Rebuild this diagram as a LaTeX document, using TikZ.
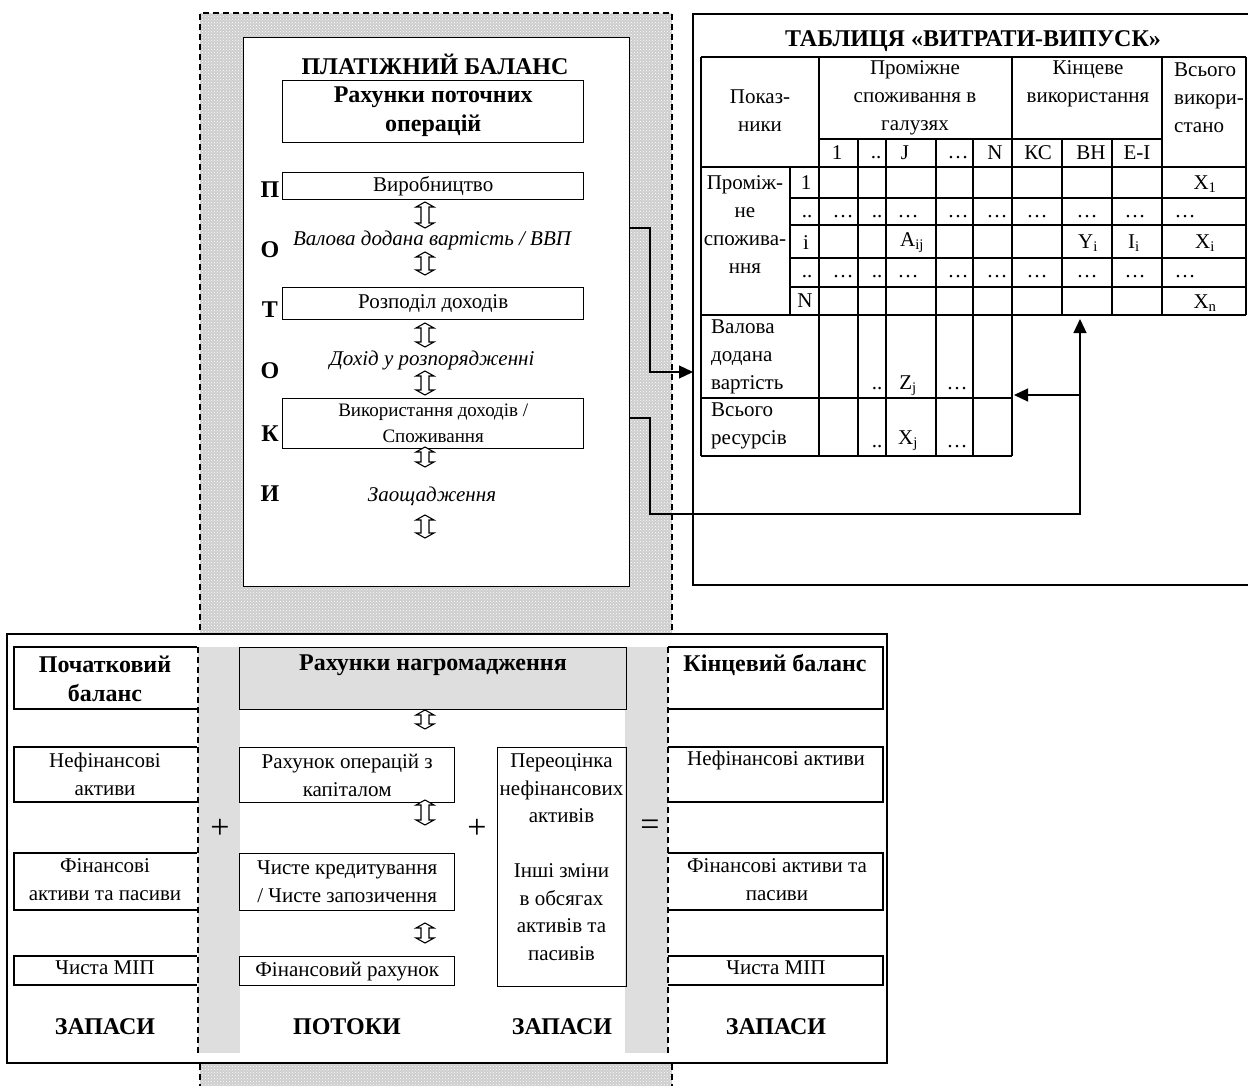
\documentclass[tikz,border=0pt]{standalone}
\usepackage{fontspec}
\setmainfont{Liberation Serif}
\usetikzlibrary{arrows.meta,patterns}
\definecolor{dotbg}{RGB}{205,205,205}
\definecolor{colgray}{RGB}{222,222,222}
\tikzset{
  txt/.style={font=\fontsize{21}{28}\selectfont, inner sep=0pt, align=center},
  btxt/.style={font=\fontsize{24}{28.5}\selectfont\bfseries, inner sep=0pt, align=center},
  itxt/.style={font=\fontsize{21}{28}\selectfont\itshape, inner sep=0pt},
  optxt/.style={font=\fontsize{34}{34}\selectfont, inner sep=0pt},
  boxline/.style={line width=1.4pt},
  gridline/.style={line width=1.2pt},
  pbox/.style={draw, boxline, inner sep=0pt, anchor=north west, align=center},
  conn/.style={line width=1.2pt},
  arr/.style={conn, -{Triangle[length=14pt,width=13pt]}},
  dashline/.style={line width=1.2pt, dash pattern=on 6pt off 4pt},
}
% hollow up-down arrow: x, ytop, ybottom
\newcommand\UDarrow[3]{%
  \draw[line width=1.1pt, fill=white] (#1,#2) -- (#1+9,#2+5) -- (#1+4,#2+5) -- (#1+4,#3-5) -- (#1+9,#3-5) -- (#1,#3) -- (#1-9,#3-5) -- (#1-4,#3-5) -- (#1-4,#2+5) -- (#1-9,#2+5) -- cycle;}
% box open on the right: x1, y1, x2, y2
\newcommand\OpenRight[4]{\draw[boxline] (#3,#2) -| (#1,#4) -- (#3,#4);}
% box open on the left: x1, y1, x2, y2
\newcommand\OpenLeft[4]{\draw[boxline] (#1,#2) -| (#3,#4) -- (#1,#4);}

\begin{document}
\begin{tikzpicture}[x=1pt,y=-1pt]
\useasboundingbox (0,0) rectangle (1248,1086);

% ---------- dotted dashed region ----------
\path[fill=dotbg, postaction={pattern=crosshatch dots, pattern color=white}] (200,13) rectangle (672,1090);
\draw[dashline] (200,1090) -- (200,13) -- (672,13) -- (672,1090);

% ---------- balance of payments box ----------
\node[pbox, fill=white, minimum width=386pt, minimum height=549pt] (pb) at (243,37) {};
\node[btxt] (pbt) at (435,64) {ПЛАТІЖНИЙ БАЛАНС};
\node[pbox, minimum width=301pt, minimum height=62pt, font=\fontsize{24}{29}\selectfont\bfseries] (rpo) at (282,80) {Рахунки поточних\\операцій};
\node[pbox, minimum width=301pt, minimum height=27pt, font=\fontsize{21}{28}\selectfont] (vyr) at (282,172) {Виробництво};
\node[itxt] (vdv) at (432,240) {Валова додана вартість / ВВП};
\node[pbox, minimum width=301pt, minimum height=32pt, font=\fontsize{21}{28}\selectfont] (rozp) at (282,287) {Розподіл доходів};
\node[itxt] (dohid) at (432,360) {Дохід у розпорядженні};
\node[pbox, minimum width=301pt, minimum height=50pt, font=\fontsize{19}{26}\selectfont] (vyk) at (282,398) {Використання доходів /\\Споживання};
\node[itxt] (zaosh) at (432,496) {Заощадження};

\node[btxt] (l1) at (270,190) {П};
\node[btxt] (l2) at (270,250) {О};
\node[btxt] (l3) at (270,310) {Т};
\node[btxt] (l4) at (270,371) {О};
\node[btxt] (l5) at (270,434) {К};
\node[btxt] (l6) at (270,494) {И};

\UDarrow{425}{202}{228}
\UDarrow{425}{252}{275}
\UDarrow{425}{323}{347}
\UDarrow{425}{371}{395}
\UDarrow{425}{447}{467}
\UDarrow{425}{515}{538}

% ---------- input-output table ----------
\draw[boxline, fill=white] (693,14) rectangle (1262,585);
\node[btxt] (ttl) at (973,41) {ТАБЛИЦЯ «ВИТРАТИ-ВИПУСК»};

\draw[gridline] (701,57) -- (701,456);
\draw[gridline] (819,57) -- (819,456);
\draw[gridline] (1012,57) -- (1012,456);
\foreach \x in {858,886,936,973} \draw[gridline] (\x,139) -- (\x,456);
\foreach \x in {1062,1112} \draw[gridline] (\x,139) -- (\x,315);
\draw[gridline] (1162,57) -- (1162,315);
\draw[gridline] (1246,57) -- (1246,315);
\draw[gridline] (790,167) -- (790,315);
\draw[gridline] (701,57) -- (1246,57);
\draw[gridline] (819,139) -- (1162,139);
\draw[gridline] (701,167) -- (1246,167);
\foreach \y in {198,225,258,287} \draw[gridline] (790,\y) -- (1246,\y);
\draw[gridline] (701,315) -- (1246,315);
\draw[gridline] (701,398) -- (1012,398);
\draw[gridline] (701,456) -- (1012,456);

\node[txt] (h1) at (760,111) {Показ-\\ники};
\node[txt] (h2) at (915,98) {Проміжне\\споживання в\\галузях};
\node[txt] (h3) at (1088,84) {Кінцеве\\використання};
\node[txt, align=left, anchor=west] (h4) at (1174,98) {Всього\\викори-\\стано};

\node[txt] (s1) at (837,153) {1};
\node[txt] (s2) at (876,158) {..};
\node[txt] (s3) at (905,153) {J};
\node[txt] (s4) at (958,158) {…};
\node[txt] (s5) at (995,153) {N};
\node[txt] (s6) at (1038,153) {КС};
\node[txt] (s7) at (1091,153) {ВН};
\node[txt] (s8) at (1137,153) {Е-І};

\node[txt] (rl) at (745,225) {Проміж-\\не\\спожива-\\ння};
\node[txt] (i1) at (806,183) {1};
\node[txt] (i2) at (807,217) {..};
\node[txt] (i3) at (806,243) {i};
\node[txt] (i4) at (807,277) {..};
\node[txt] (i5) at (805,301) {N};

\foreach \x/\t [count=\k] in {843/…,877/..,908/…,958/…,997/…,1037/…,1087/…,1135/…,1185/…} {
  \node[txt] (da\k) at (\x,217) {\t};
  \node[txt] (db\k) at (\x,277) {\t};
}
\node[txt] (x1) at (1205,184) {X\textsubscript{1}};
\node[txt] (xi) at (1205,243) {X\textsubscript{i}};
\node[txt] (xn) at (1205,303) {X\textsubscript{n}};
\node[txt] (aij) at (912,243) {A\textsubscript{ij}};
\node[txt] (yi) at (1088,243) {Y\textsubscript{i}};
\node[txt] (ii) at (1134,243) {I\textsubscript{i}};

\node[txt, align=left, anchor=west] (vdlab) at (711,357) {Валова\\додана\\вартість};
\node[txt] (vd1) at (877,389) {..};
\node[txt] (vd2) at (908,386) {Z\textsubscript{j}};
\node[txt] (vd3) at (957,389) {…};
\node[txt, align=left, anchor=west] (vrlab) at (711,426) {Всього\\ресурсів};
\node[txt] (vr1) at (877,447) {..};
\node[txt] (vr2) at (908,441) {X\textsubscript{j}};
\node[txt] (vr3) at (957,447) {…};

% ---------- accumulation block ----------
\draw[boxline, fill=white] (7,634) rectangle (887,1063);
\fill[colgray] (198,647) rectangle (240,1053);
\fill[colgray] (625,647) rectangle (668,1053);

% column 1
\OpenRight{14}{647}{197}{709}
\OpenRight{14}{747}{197}{802}
\OpenRight{14}{853}{197}{910}
\OpenRight{14}{956}{197}{985}
\node[btxt] (pb1) at (105,679) {Початковий\\баланс};
\node[txt] (pb2) at (105,774) {Нефінансові\\активи};
\node[txt] (pb3) at (105,880) {Фінансові\\активи та пасиви};
\node[txt] (pb4) at (105,968) {Чиста МІП};
\node[btxt] (pb5) at (105,1027) {ЗАПАСИ};

% column 2
\node[pbox, fill=colgray, minimum width=387pt, minimum height=62pt] (rn) at (239,647) {};
\node[btxt] (rnt) at (433,665) {Рахунки нагромадження};
\node[pbox, minimum width=215pt, minimum height=55pt, font=\fontsize{21}{28}\selectfont] (rok) at (239,747) {Рахунок операцій з\\капіталом};
\node[pbox, minimum width=215pt, minimum height=57pt, font=\fontsize{21}{28}\selectfont] (chk) at (239,853) {Чисте кредитування\\/ Чисте запозичення};
\node[pbox, minimum width=215pt, minimum height=29pt, font=\fontsize{21}{28}\selectfont] (fr) at (239,956) {Фінансовий рахунок};
\node[btxt] (pot) at (347,1027) {ПОТОКИ};
\UDarrow{425}{710}{729}
\UDarrow{425}{800}{825}
\UDarrow{425}{923}{943}

% column 3
\node[pbox, minimum width=129pt, minimum height=239pt] (per) at (497,747) {};
\node[font=\fontsize{21}{27.5}\selectfont, inner sep=0pt, align=center] (pert) at (561.5,857) {Переоцінка\\нефінансових\\активів\\[27.5pt]Інші зміни\\в обсягах\\активів та\\пасивів};
\node[btxt] (zap3) at (562,1027) {ЗАПАСИ};

% column 4
\OpenLeft{668}{647}{883}{709}
\OpenLeft{668}{747}{883}{802}
\OpenLeft{668}{853}{883}{910}
\OpenLeft{668}{956}{883}{985}
\node[btxt] (kb1) at (775,665) {Кінцевий баланс};
\node[txt] (kb2) at (776,760) {Нефінансові активи};
\node[txt] (kb3) at (777,880) {Фінансові активи та\\пасиви};
\node[txt] (kb4) at (776,968) {Чиста МІП};
\node[btxt] (kb5) at (776,1027) {ЗАПАСИ};

\draw[dashline] (198,647) -- (198,1053);
\draw[dashline] (668,647) -- (668,1053);

\node[optxt] (plus1) at (220,829) {+};
\node[optxt] (plus2) at (477,829) {+};
\node[optxt] (eq) at (650,828) {=};

% ---------- connectors ----------
\coordinate (o1) at (629,228);
\coordinate (o2) at (629,418);
\coordinate (tin) at (693,372);
\coordinate (up) at (1080,319);
\coordinate (jn) at (1080,395);
\coordinate (lt) at (1014,395);
\draw[arr] (o1) -- (650,228) -- (650,372) -- (tin);
\draw[arr] (o2) -- (650,418) -- (650,514) -- (1080,514) -- (up);
\draw[arr] (jn) -- (lt);
\end{tikzpicture}
\end{document}
